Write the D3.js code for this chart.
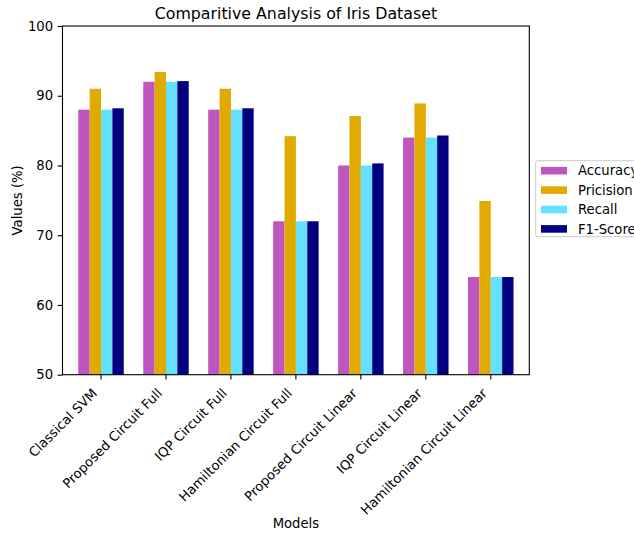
<!DOCTYPE html>
<html><head><meta charset="utf-8">
<script src="https://cdn.jsdelivr.net/npm/d3@7"></script>
<style>body{margin:0;background:#fff}svg{font-family:"DejaVu Sans",sans-serif}</style>
</head><body>
<script>
const models = ["Classical SVM","Proposed Circuit Full","IQP Circuit Full","Hamiltonian Circuit Full","Proposed Circuit Linear","IQP Circuit Linear","Hamiltonian Circuit Linear"];
const seriesNames = ["Accuracy","Pricision","Recall","F1-Score"];
const accuracy = [88,92,88,72,80,84,64];
const precision = [91,93.4,91,84.2,87.1,88.9,74.9];
const recall = [88,92,88,72,80,84,64];
const f1 = [88.2,92.1,88.2,72,80.3,84.3,64];
const colors = ["#bf55bf","#e0aa00","#66e0ff","#000080"];
const yTicks = [50,60,70,80,90,100];
const series = [accuracy,precision,recall,f1];

const W=634,H=535;
const L=62.5,R=529.3,T=26,B=374.7;
const w=0.175, m=0.243;
const FS=13.2;
const svg=d3.select("body").append("svg").attr("width",W).attr("height",H);
const x=d3.scaleLinear().domain([-m,6+4*w+m]).range([L,R]);
const y=d3.scaleLinear().domain([50,100]).range([B,T]);

series.forEach((vals,k)=>{
  svg.append("g").selectAll("rect").data(vals).join("rect")
    .attr("x",(d,i)=>x(i+k*w)).attr("width",x(w)-x(0))
    .attr("y",d=>y(d)).attr("height",d=>y(50)-y(d))
    .attr("fill",colors[k]);
});

// y axis
const ya=svg.append("g").attr("transform",`translate(${L},0)`)
  .call(d3.axisLeft(y).tickValues(yTicks).tickSize(4.9).tickPadding(4.5));
ya.selectAll("text").attr("font-size",FS).attr("fill","#000").attr("font-family","DejaVu Sans");
ya.selectAll("line").attr("stroke","#000").attr("stroke-width",1.1);
ya.select(".domain").remove();

// x axis ticks
const xa=svg.append("g").attr("transform",`translate(0,${B})`);
models.forEach((mname,i)=>{
  const cx=x(i+2*w);
  xa.append("line").attr("x1",cx).attr("x2",cx).attr("y1",0).attr("y2",4.9).attr("stroke","#000").attr("stroke-width",1.1);
  xa.append("text").attr("transform",`translate(${cx-3},${19.4}) rotate(-45)`)
    .attr("text-anchor","end").attr("font-size",FS).text(mname);
});

// frame
svg.append("rect").attr("x",L).attr("y",T).attr("width",R-L).attr("height",B-T)
  .attr("fill","none").attr("stroke","#000").attr("stroke-width",1.1);

// labels
svg.append("text").attr("x",(L+R)/2).attr("y",19).attr("text-anchor","middle").attr("font-size",15.8).text("Comparitive Analysis of Iris Dataset");
svg.append("text").attr("x",(L+R)/2).attr("y",528).attr("text-anchor","middle").attr("font-size",FS).text("Models");
svg.append("text").attr("transform",`translate(21.5,${(T+B)/2}) rotate(-90)`).attr("text-anchor","middle").attr("font-size",FS).text("Values (%)");

// legend
const lg=svg.append("g");
lg.append("rect").attr("x",535.7).attr("y",160.7).attr("width",120).attr("height",76).attr("rx",2)
  .attr("fill","#fff").attr("fill-opacity",0.8).attr("stroke","#ccc").attr("stroke-width",1);
seriesNames.forEach((n,k)=>{
  const yy=170.7+k*19.4;
  lg.append("rect").attr("x",541).attr("y",yy-3.8).attr("width",26).attr("height",7.6).attr("fill",colors[k]);
  lg.append("text").attr("x",578).attr("y",yy).attr("dy","0.36em").attr("font-size",FS).text(n);
});
</script>
</body></html>
